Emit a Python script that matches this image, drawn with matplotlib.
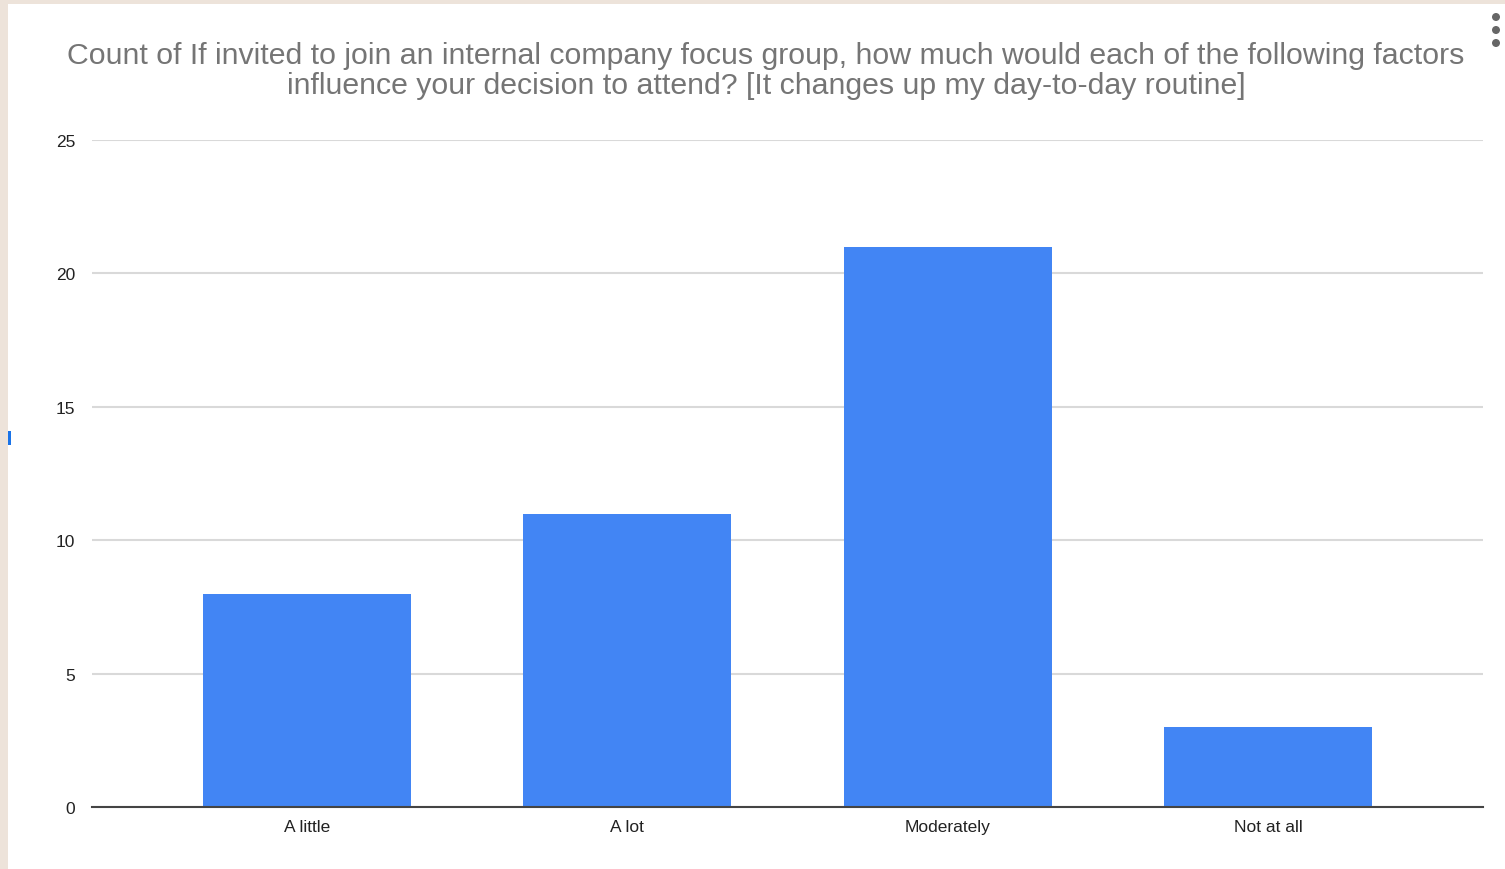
import matplotlib
matplotlib.use("Agg")
import matplotlib.pyplot as plt
from matplotlib.patches import Rectangle, Ellipse

# data
categories = ['A little', 'A lot', 'Moderately', 'Not at all']
counts = [8, 11, 21, 3]
yticks = [0, 5, 10, 15, 20, 25]

title = ('Count of If invited to join an internal company focus group, how much would each of the following factors\n'
         'influence your decision to attend? [It changes up my day-to-day routine]')

plt.rcParams['font.family'] = ['Liberation Sans', 'DejaVu Sans']

fig = plt.figure(figsize=(15.05, 8.7), dpi=100)
fig.patch.set_facecolor('#ede3da')
# white card, beige strip on left and top
fig.add_artist(Rectangle((8 / 1505, 0), 1, 1 - 5 / 870, transform=fig.transFigure,
                         facecolor='white', edgecolor='none', zorder=0))

ax = fig.add_axes([92 / 1505, 1 - 808 / 870, (1483 - 92) / 1505, (808 - 141) / 870])
ax.set_facecolor('white')

x = range(len(categories))
ax.bar(x, counts, width=0.65, color='#4285f4', zorder=3)

ax.set_ylim(0, 25)
ax.set_xlim(-0.671, 3.671)
ax.set_yticks(yticks)
ax.set_xticks(list(x))
ax.set_xticklabels(categories)
ax.grid(axis='y', color='#d9d9d9', linewidth=1.5, zorder=0)
ax.tick_params(axis='both', length=0, labelsize=12.5, colors='#222222')
ax.tick_params(axis='y', pad=12)
ax.tick_params(axis='x', pad=9)
for s in ['top', 'right', 'left']:
    ax.spines[s].set_visible(False)
ax.spines['bottom'].set_color('#444444')
ax.spines['bottom'].set_linewidth(1.5)
ax.spines['bottom'].set_zorder(4)

fig.text(766 / 1505, 1 - 71 / 870, title, ha='center', va='center',
         fontsize=21.8, color='#757575', linespacing=1.05)

# menu dots and the little blue marker on the left edge
for yy in [18, 31, 44]:
    fig.add_artist(Ellipse((1496 / 1505, 1 - yy / 870), 8 / 1505, 8 / 870, transform=fig.transFigure,
                           facecolor='#666666', edgecolor='none'))
fig.add_artist(Rectangle((8 / 1505, 1 - 446 / 870), 3 / 1505, 14 / 870, transform=fig.transFigure,
                         facecolor='#1a73e8', edgecolor='none'))

fig.savefig('out.png', dpi=100)
